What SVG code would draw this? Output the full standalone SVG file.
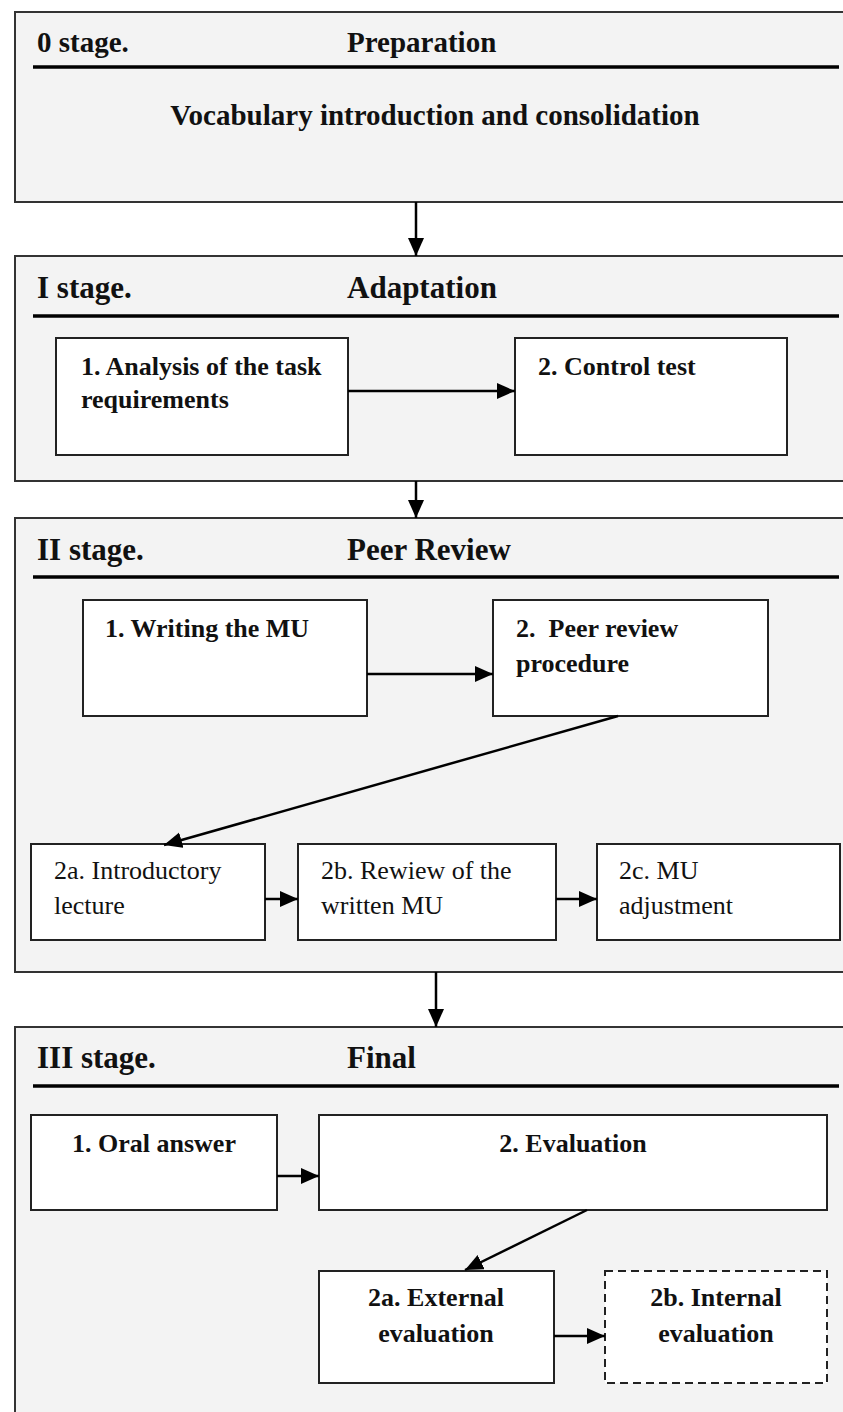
<svg xmlns="http://www.w3.org/2000/svg" width="843" height="1412" viewBox="0 0 843 1412">
<style>
.stage{fill:#f3f3f3;stroke:#333;stroke-width:2}
.box{fill:#fff;stroke:#222;stroke-width:2}
.dash{fill:#fff;stroke:#222;stroke-width:2;stroke-dasharray:8 5}
.hline{stroke:#000;stroke-width:3.5}
.h{font-family:"Liberation Serif","Times New Roman",serif;font-weight:bold;font-size:31px;fill:#111}
.b{font-family:"Liberation Serif","Times New Roman",serif;font-weight:bold;font-size:26px;fill:#111}
.r{font-family:"Liberation Serif","Times New Roman",serif;font-size:26px;fill:#111}
.m{text-anchor:middle}
.c{stroke:#000;stroke-width:2.5;fill:none;marker-end:url(#ah)}
</style>
<defs>
<marker id="ah" markerUnits="userSpaceOnUse" markerWidth="19" markerHeight="17" refX="18" refY="8" orient="auto">
<path d="M0,0 L18,8 L0,16 z" fill="#000"/>
</marker>
</defs>
<rect width="843" height="1412" fill="#fff"/>

<g id="stage0">
<rect class="stage" x="15" y="12" width="860" height="190"/>
<text class="h" x="37" y="52" style="font-size:29px">0 stage.</text>
<text class="h" x="347" y="52" style="font-size:29px">Preparation</text>
<line class="hline" x1="33" y1="67" x2="839" y2="67"/>
<text class="h m" x="435" y="125" style="font-size:29px">Vocabulary introduction and consolidation</text>
</g>

<g id="stage1">
<rect class="stage" x="15" y="256" width="860" height="225"/>
<text class="h" x="37" y="298">I stage.</text>
<text class="h" x="347" y="298">Adaptation</text>
<line class="hline" x1="33" y1="316" x2="839" y2="316"/>
</g>
<g id="s1n1">
<rect class="box" x="56" y="338" width="292" height="117"/>
<text class="b" x="81" y="375">1. Analysis of the task</text>
<text class="b" x="81" y="408">requirements</text>
</g>
<g id="s1n2">
<rect class="box" x="515" y="338" width="272" height="117"/>
<text class="b" x="538" y="375">2. Control test</text>
</g>

<g id="stage2">
<rect class="stage" x="15" y="518" width="860" height="454"/>
<text class="h" x="37" y="560">II stage.</text>
<text class="h" x="347" y="560">Peer Review</text>
<line class="hline" x1="33" y1="577" x2="839" y2="577"/>
</g>
<g id="s2n1">
<rect class="box" x="83" y="600" width="284" height="116"/>
<text class="b" x="105" y="637">1. Writing the MU</text>
</g>
<g id="s2n2">
<rect class="box" x="493" y="600" width="275" height="116"/>
<text class="b" x="516" y="637" style="white-space:pre">2.  Peer review</text>
<text class="b" x="516" y="672">procedure</text>
</g>
<g id="s2n2a">
<rect class="box" x="31" y="844" width="234" height="96"/>
<text class="r" x="54" y="879">2a. Introductory</text>
<text class="r" x="54" y="914">lecture</text>
</g>
<g id="s2n2b">
<rect class="box" x="298" y="844" width="258" height="96"/>
<text class="r" x="321" y="879">2b. Rewiew of the</text>
<text class="r" x="321" y="914">written MU</text>
</g>
<g id="s2n2c">
<rect class="box" x="597" y="844" width="243" height="96"/>
<text class="r" x="619" y="879">2c. MU</text>
<text class="r" x="619" y="914">adjustment</text>
</g>

<g id="stage3">
<rect class="stage" x="15" y="1027" width="860" height="420"/>
<text class="h" x="37" y="1068">III stage.</text>
<text class="h" x="347" y="1068">Final</text>
<line class="hline" x1="33" y1="1086" x2="839" y2="1086"/>
</g>
<g id="s3n1">
<rect class="box" x="31" y="1115" width="246" height="95"/>
<text class="b m" x="154" y="1152">1. Oral answer</text>
</g>
<g id="s3n2">
<rect class="box" x="319" y="1115" width="508" height="95"/>
<text class="b m" x="573" y="1152">2. Evaluation</text>
</g>
<g id="s3n2a">
<rect class="box" x="319" y="1271" width="235" height="112"/>
<text class="b m" x="436" y="1306">2a. External</text>
<text class="b m" x="436" y="1342">evaluation</text>
</g>
<g id="s3n2b">
<rect class="dash" x="605" y="1271" width="222" height="112"/>
<text class="b m" x="716" y="1306">2b. Internal</text>
<text class="b m" x="716" y="1342">evaluation</text>
</g>

<g id="connectors">
<line class="c" x1="416" y1="202" x2="416" y2="256"/>
<line class="c" x1="348" y1="391" x2="515" y2="391"/>
<line class="c" x1="416" y1="481" x2="416" y2="518"/>
<line class="c" x1="367" y1="674" x2="493" y2="674"/>
<line class="c" x1="618" y1="716" x2="164" y2="845"/>
<line class="c" x1="265" y1="899" x2="298" y2="899"/>
<line class="c" x1="556" y1="899" x2="597" y2="899"/>
<line class="c" x1="436" y1="972" x2="436" y2="1027"/>
<line class="c" x1="277" y1="1176" x2="319" y2="1176"/>
<line class="c" x1="587" y1="1210" x2="465" y2="1270"/>
<line class="c" x1="554" y1="1336" x2="605" y2="1336"/>
</g>
</svg>
